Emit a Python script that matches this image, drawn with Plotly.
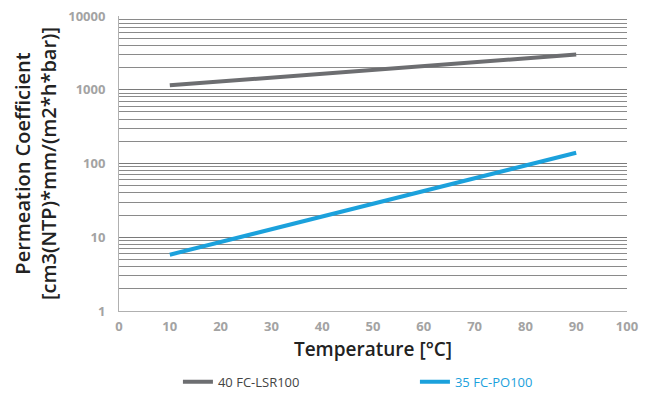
import plotly.graph_objects as go

# Data
temperature = [10, 90]
lsr100 = [1150, 3000]      # 40 FC-LSR100
po100 = [5.8, 140]         # 35 FC-PO100

x_ticks = [0, 10, 20, 30, 40, 50, 60, 70, 80, 90, 100]
y_ticks = [1, 10, 100, 1000, 10000]
y_tick_text = ["1", "10", "100", "1000", "10000"]

GRAY = "#6d6e71"
BLUE = "#1ba1dc"
TICK = "#a3a3a3"

fig = go.Figure()
fig.add_trace(go.Scatter(
    x=temperature, y=lsr100, mode="lines",
    name="40 FC-LSR100",
    line=dict(color=GRAY, width=4),
))
fig.add_trace(go.Scatter(
    x=temperature, y=po100, mode="lines",
    name=f"<span style='color:{BLUE}'>35 FC-PO100</span>",
    line=dict(color=BLUE, width=4),
))

fig.update_layout(
    width=650, height=394,
    margin=dict(l=119, r=23, t=16, b=83, autoexpand=False),
    paper_bgcolor="white", plot_bgcolor="white",
    font=dict(family="Open Sans, sans-serif", color="#333"),
    showlegend=True,
    legend=dict(
        orientation="h",
        x=0.116, xanchor="left",
        y=-0.24, yanchor="middle",
        font=dict(size=13, color="#444"),
        entrywidth=192, entrywidthmode="pixels",
        traceorder="normal",
        bgcolor="rgba(0,0,0,0)",
    ),
)

fig.update_xaxes(
    range=[0, 100],
    tickvals=x_ticks,
    showgrid=False,
    zeroline=False,
    automargin=False,
    showline=True, linecolor="#b0b0b0", linewidth=1,
    ticks="",
    ticklabelstandoff=3,
    tickfont=dict(size=13, color=TICK, weight="bold"),
    title=dict(text="Temperature [°C]", font=dict(size=19, color="#222", weight=600), standoff=9),
)

fig.update_yaxes(
    type="log",
    range=[0, 4],
    tickvals=y_ticks, ticktext=y_tick_text,
    showgrid=True, gridcolor="#7a7a7a", gridwidth=1,
    minor=dict(dtick="D1", showgrid=True, gridcolor="#8a8a8a", gridwidth=1, ticks=""),
    zeroline=False,
    automargin=False,
    showline=True, linecolor="#b0b0b0", linewidth=1,
    ticks="",
    ticklabelstandoff=10,
    tickfont=dict(size=13, color=TICK, weight="bold"),
    title=dict(
        text="Permeation Coefficient<br>[cm3(NTP)*mm/(m2*h*bar)]",
        font=dict(size=20, color="#222", weight=600),
        standoff=6,
    ),
)

fig.write_html(
    "out.html",
    config={"displayModeBar": False},
    post_script="document.body.style.margin='0';",
)
